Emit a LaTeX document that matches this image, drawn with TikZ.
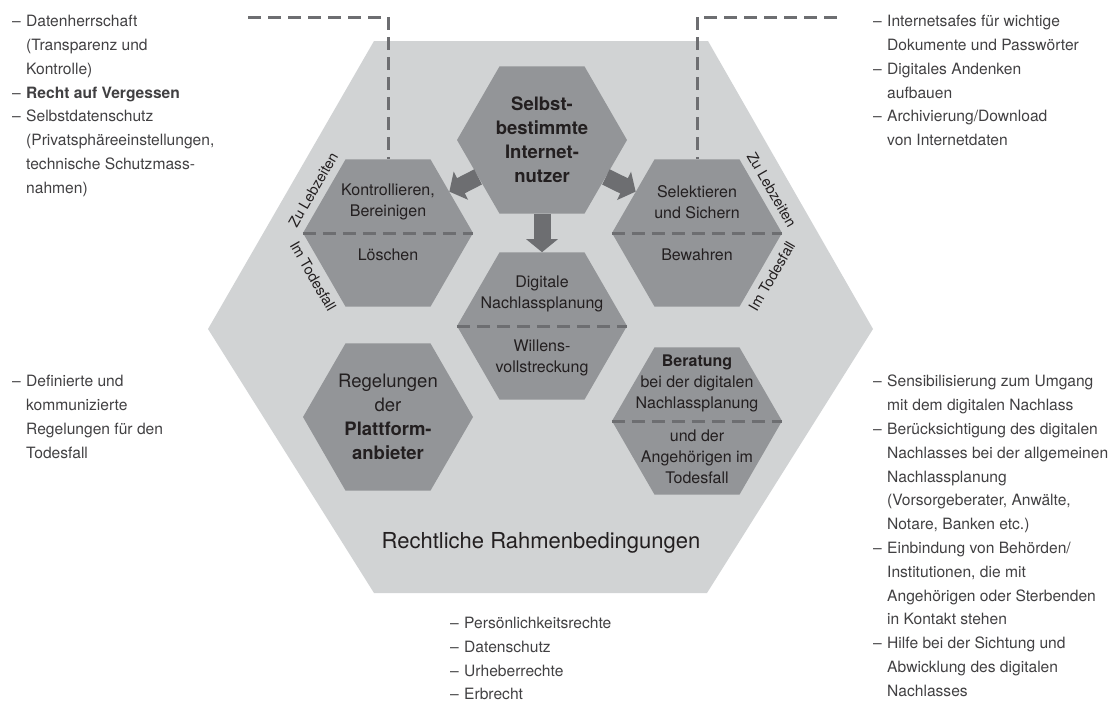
\documentclass[tikz,border=0pt]{standalone}
\usepackage{fontspec}
\setmainfont{TeX Gyre Heros}
\usetikzlibrary{arrows.meta, positioning, shapes.geometric, calc}

\definecolor{rahmengrau}{HTML}{D1D3D4}
\definecolor{wabengrau}{HTML}{939598}
\definecolor{pfeilgrau}{HTML}{6D6E71}
\definecolor{textgrau}{HTML}{231F20}
\definecolor{listengrau}{HTML}{414042}

% dash in front of a list item, and the indent of its follow-up lines
\newcommand{\strich}{\makebox[14pt][l]{--}}
\newcommand{\einzug}{\hspace*{14pt}}

\begin{document}
\begin{tikzpicture}[x=1pt, y=-1pt,
    wabe/.style={regular polygon, regular polygon sides=6, minimum size=170pt, inner sep=0pt, fill=wabengrau},
    wabentext/.style={align=center, text=textgrau, font=\fontsize{16}{21}\selectfont, inner sep=0pt},
    titel/.style={align=center, text=textgrau, font=\fontsize{18.5}{24}\selectfont, inner sep=0pt},
    liste/.style={align=left, anchor=north west, text=listengrau, font=\fontsize{15.6}{23.8}\selectfont, inner sep=0pt},
    phase/.style={text=textgrau, font=\fontsize{14.5}{16}\selectfont, inner sep=7pt},
    trenner/.style={draw=pfeilgrau, line width=3pt, dash pattern=on 13pt off 7pt},
    push/.style={draw=pfeilgrau, line width=17pt, -{Triangle[width=31pt, length=13pt]}}
]
\useasboundingbox (0,0) rectangle (1116,702);

% Outer frame: legal conditions
\fill[rahmengrau] (374,41) -- (708,41) -- (873,329) -- (707,593) -- (374,593) -- (208,329) -- cycle;
\node[font=\fontsize{22}{26}\selectfont, text=textgrau] (rahmen) at (541,543) {Rechtliche Rahmenbedingungen};

% Honeycomb cells
\node[wabe] (nutzer) at (542,140) {};
\node[wabe] (kontrolle) at (388,233) {};
\node[wabe] (sichern) at (697,233) {};
\node[wabe] (planung) at (542,326) {};
\node[wabe] (anbieter) at (388,417) {};
\node[wabe] (beratung) at (697,421) {};

% Arrows out of the centre cell
\draw[push] (nutzer.210) -- (kontrolle.34);
\draw[push] (nutzer.330) -- (sichern.146);
\draw[push] (nutzer.south) -- (planung.north);

% Split lines: lifetime above, case of death below
\draw[trenner] (kontrolle.west) -- (kontrolle.east);
\draw[trenner] (sichern.west) -- (sichern.east);
\draw[trenner] (planung.west) -- (planung.east);
\draw[trenner] (beratung.west) -- (beratung.east);

% Guide lines up to the lists at the top
\coordinate (linksoben) at (248,17);
\coordinate (rechtsoben) at (837,17);
\draw[trenner] (linksoben) -| (kontrolle.north);
\draw[trenner] (rechtsoben) -| (sichern.north);

% Cell texts
\node[titel, font=\fontsize{18.5}{24}\bfseries] (nutzertext) at (nutzer) {Selbst-\\bestimmte\\Internet-\\nutzer};
\node[wabentext] (kontrolleoben) at ([yshift=31pt]kontrolle.center) {Kontrollieren,\\Bereinigen};
\node[wabentext] (kontrolleunten) at ([yshift=-22pt]kontrolle.center) {Löschen};
\node[wabentext] (sichernoben) at ([yshift=31pt]sichern.center) {Selektieren\\und Sichern};
\node[wabentext] (sichernunten) at ([yshift=-22pt]sichern.center) {Bewahren};
\node[wabentext] (planungoben) at ([yshift=32pt]planung.center) {Digitale\\Nachlassplanung};
\node[wabentext] (planungunten) at ([yshift=-32pt]planung.center) {Willens-\\vollstreckung};
\node[titel] (anbietertext) at (anbieter) {Regelungen\\der\\\textbf{Plattform-}\\\textbf{anbieter}};
\node[wabentext] (beratungoben) at ([yshift=38pt]beratung.center) {\textbf{Beratung}\\bei der digitalen\\Nachlassplanung};
\node[wabentext] (beratungunten) at ([yshift=-36pt]beratung.center) {und der\\Angehörigen im\\Todesfall};

% Lifetime / case of death along the cell borders
\node[phase, rotate=60, anchor=south] (lebzeitlinks) at (kontrolle.150) {Zu Lebzeiten};
\node[phase, rotate=-60, anchor=north] (todlinks) at (kontrolle.210) {Im Todesfall};
\node[phase, rotate=-60, anchor=south] (lebzeitrechts) at (sichern.30) {Zu Lebzeiten};
\node[phase, rotate=60, anchor=north] (todrechts) at (sichern.330) {Im Todesfall};

% Lists around the frame
\node[liste] (listelinksoben) at (12,15) {\strich Datenherrschaft\\
    \einzug (Transparenz und\\
    \einzug Kontrolle)\\
    \strich \textbf{Recht auf Vergessen}\\
    \strich Selbstdatenschutz\\
    \einzug (Privatsphäreeinstellungen,\\
    \einzug technische Schutzmass-\\
    \einzug nahmen)};
\node[liste] (listerechtsoben) at (873,15) {\strich Internetsafes für wichtige\\
    \einzug Dokumente und Passwörter\\
    \strich Digitales Andenken\\
    \einzug aufbauen\\
    \strich Archivierung/Download\\
    \einzug von Internetdaten};
\node[liste] (listelinks) at (12,375) {\strich Definierte und\\
    \einzug kommunizierte\\
    \einzug Regelungen für den\\
    \einzug Todesfall};
\node[liste] (listerechts) at (873,375) {\strich Sensibilisierung zum Umgang\\
    \einzug mit dem digitalen Nachlass\\
    \strich Berücksichtigung des digitalen\\
    \einzug Nachlasses bei der allgemeinen\\
    \einzug Nachlassplanung\\
    \einzug (Vorsorgeberater, Anwälte,\\
    \einzug Notare, Banken etc.)\\
    \strich Einbindung von Behörden/\\
    \einzug Institutionen, die mit\\
    \einzug Angehörigen oder Sterbenden\\
    \einzug in Kontakt stehen\\
    \strich Hilfe bei der Sichtung und\\
    \einzug Abwicklung des digitalen\\
    \einzug Nachlasses};
\node[liste] (listeunten) at (450,617) {\strich Persönlichkeitsrechte\\
    \strich Datenschutz\\
    \strich Urheberrechte\\
    \strich Erbrecht};

\end{tikzpicture}
\end{document}
